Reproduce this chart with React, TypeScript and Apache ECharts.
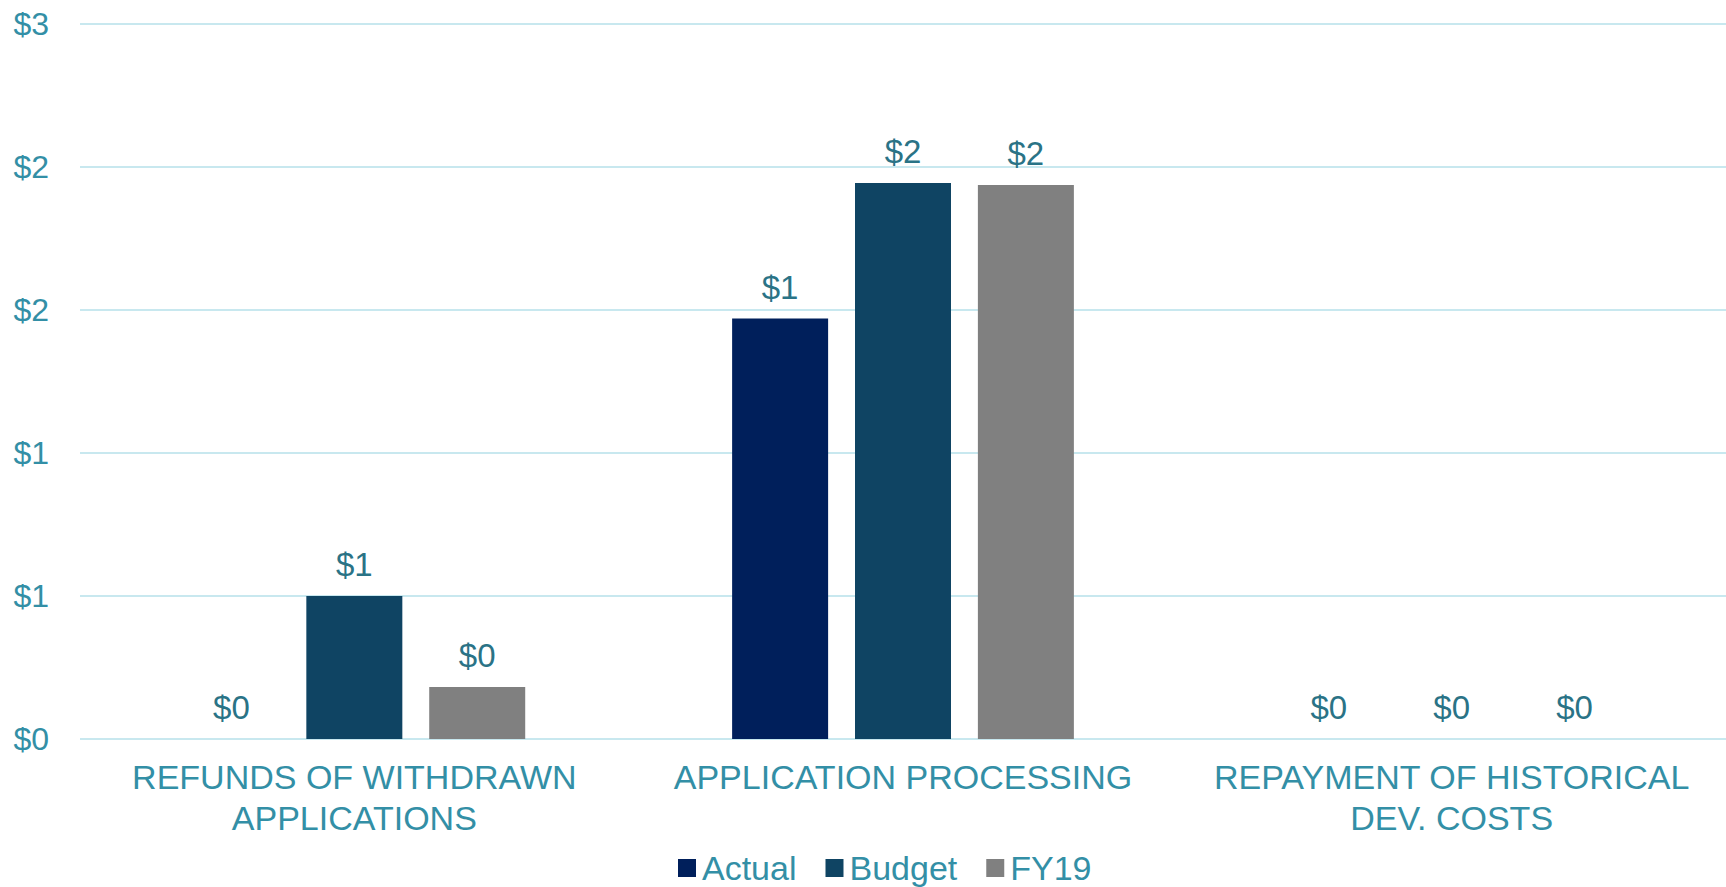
import React, { useEffect, useRef } from "react";
import * as echarts from "echarts";

const categories = ["REFUNDS OF WITHDRAWN\nAPPLICATIONS", "APPLICATION PROCESSING", "REPAYMENT OF HISTORICAL\nDEV. COSTS"];
const seriesNames = ["Actual", "Budget", "FY19"];
const actualValues = [0, 1.47, 0];
const budgetValues = [0.5, 1.944, 0];
const fy19Values = [0.182, 1.937, 0];
const yTicks = { min: 0, max: 2.5, interval: 0.5 };
const colors = ["#001F5B", "#0F4463", "#808080"];

const FONT = '"Liberation Sans", Arial, sans-serif';
const AXIS_TEXT = "#338FA6";
const LABEL_TEXT = "#2A7386";

const fmt = (v: number) => "$" + Math.round(v);

export default function App() {
  const ref = useRef<HTMLDivElement>(null);
  useEffect(() => {
    document.body.style.margin = "0";
    const chart = echarts.init(ref.current!, undefined, { renderer: "svg" });
    const values = [actualValues, budgetValues, fy19Values];
    chart.setOption({
      animation: false,
      textStyle: { fontFamily: FONT },
      grid: { left: 80, right: 0, top: 24, bottom: 148 },
      legend: {
        data: seriesNames,
        left: 673,
        top: 846,
        icon: "rect",
        itemWidth: 18,
        itemHeight: 18,
        itemGap: 29,
        textStyle: { fontSize: 34, color: AXIS_TEXT, fontFamily: FONT, padding: [0, 0, 0, 1] },
      },
      xAxis: {
        type: "category",
        data: categories,
        axisLine: { show: false },
        axisTick: { show: false },
        axisLabel: { color: AXIS_TEXT, fontSize: 34, lineHeight: 41, margin: 17, fontFamily: FONT, interval: 0 },
      },
      yAxis: {
        type: "value",
        ...yTicks,
        axisLine: { show: false },
        axisTick: { show: false },
        splitLine: { lineStyle: { color: "#C8E8EF", width: 2 } },
        axisLabel: { formatter: fmt, color: AXIS_TEXT, fontSize: 32, margin: 31, fontFamily: FONT },
      },
      series: seriesNames.map((name, i) => ({
        name,
        type: "bar",
        data: values[i],
        barWidth: 96,
        barGap: "28%",
        itemStyle: { color: colors[i] },
        label: {
          show: true,
          position: "top",
          distance: 15,
          formatter: (p: any) => fmt(p.value),
          color: LABEL_TEXT,
          fontSize: 33,
          fontFamily: FONT,
        },
      })),
    });
    return () => chart.dispose();
  }, []);
  return <div ref={ref} style={{ width: 1726, height: 887 }} />;
}
